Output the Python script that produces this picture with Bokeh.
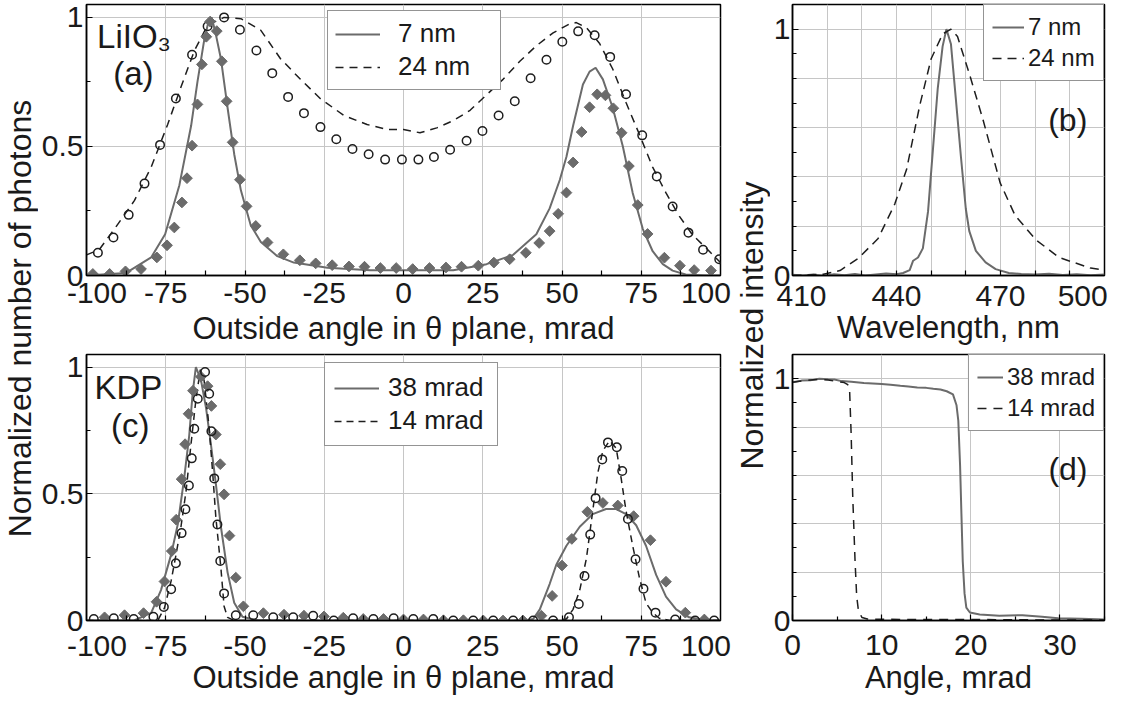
import math
from bokeh.plotting import figure
from bokeh.models import (Range1d, FixedTicker, Grid, Legend, LegendItem, Label,
                          CustomJSTickFormatter)
from bokeh.layouts import row, column
from bokeh.embed import file_html
from bokeh.resources import INLINE
from bokeh.core.properties import value

# ---------------------------------------------------------------- data
# (a) LiIO3 : outside angle (mrad) vs normalized number of photons
a_fit7_x = [-100, -87.5, -79.6, -75.2, -70.7, -67, -65, -62.9, -61.5, -60.5, -59.3, -57.6,
            -55.5, -53.4, -51.3, -48.2, -45, -39.8, -34.6, -24, -10.5, 0, 15.7, 26.2, 34.6,
            41.9, 46.1, 49.3, 51.4, 53.5, 56.6, 58.7, 60.6, 62.9, 66, 69.2, 72.3, 75.5,
            78.6, 81.8, 84.9, 89, 95, 100]
a_fit7_y = [0.0, 0.01, 0.07, 0.16, 0.35, 0.58, 0.75, 0.91, 0.985, 1.0, 0.94, 0.84,
            0.65, 0.47, 0.33, 0.195, 0.13, 0.075, 0.05, 0.03, 0.02, 0.02, 0.02, 0.044, 0.08,
            0.16, 0.26, 0.37, 0.46, 0.58, 0.74, 0.79, 0.805, 0.76, 0.65, 0.50, 0.32, 0.18,
            0.094, 0.044, 0.019, 0.004, 0.0, 0.0]
a_fit24_x = [-100, -96, -91.2, -84.9, -79.6, -74.4, -70.2, -66, -61.8, -56.6, -51.3, -45,
             -38.8, -32.5, -26.2, -18.8, -11.5, -5.2, 0, 5.2, 10.5, 15.7, 21, 26.2, 31.4,
             36.7, 41.9, 47.2, 52.4, 54.5, 57.7, 61.8, 66, 70.2, 74.4, 78.6, 82.8, 87,
             91.2, 95.4, 100]
a_fit24_y = [0.08, 0.10, 0.18, 0.29, 0.42, 0.585, 0.73, 0.87, 0.97, 1.0, 0.995, 0.95,
             0.84, 0.76, 0.685, 0.62, 0.585, 0.566, 0.566, 0.553, 0.572, 0.60, 0.64, 0.70,
             0.76, 0.83, 0.89, 0.94, 0.975, 0.98, 0.96, 0.90, 0.80, 0.67, 0.547, 0.42,
             0.32, 0.23, 0.157, 0.107, 0.05]
a_dat24_x = [-96.4, -91.5, -86.7, -81.7, -76.8, -71.8, -66.7, -61.8, -56.6, -51.6, -46.4,
             -41.4, -36.4, -31.4, -26.2, -21.2, -16.1, -11, -5.8, -0.5, 4.7, 9.6, 14.7,
             19.9, 24.9, 30, 35.1, 40.1, 45.1, 50.1, 55.1, 60.3, 65.2, 70.2, 75.3, 79.9,
             84.9, 89.9, 94.5, 99.6]
a_dat24_y = [0.088, 0.147, 0.235, 0.356, 0.506, 0.686, 0.855, 0.966, 1.0, 0.952, 0.872,
             0.784, 0.692, 0.629, 0.575, 0.528, 0.49, 0.47, 0.449, 0.449, 0.449, 0.459,
             0.487, 0.522, 0.56, 0.62, 0.675, 0.764, 0.836, 0.906, 0.946, 0.931, 0.847,
             0.702, 0.543, 0.384, 0.267, 0.166, 0.10, 0.063]
a_dat7_x = [-98, -92.7, -87.7, -82.8, -77.8, -74.6, -72.3, -69.9, -68.3, -66.7, -65, -63.6,
            -62.2, -61, -58.9, -57.3, -55.8, -53.9, -51.6, -49.5, -46.6, -42.9, -37.9, -32.7,
            -27.7, -22.5, -17.2, -12.3, -7.3, -2.3, 2.9, 8.2, 13.4, 18.3, 23.6, 28.5, 33.5,
            38.6, 42.8, 46.1, 48.8, 51.4, 53.5, 56.2, 58.7, 61.1, 63.7, 66.2, 68.8, 71.1,
            73.9, 77, 82.3, 87.2, 91.7, 97]
a_dat7_y = [0.006, 0.006, 0.016, 0.025, 0.07, 0.117, 0.186, 0.283, 0.377, 0.503, 0.663,
            0.818, 0.925, 0.984, 0.947, 0.83, 0.675, 0.516, 0.371, 0.268, 0.192, 0.128,
            0.082, 0.059, 0.047, 0.04, 0.035, 0.034, 0.029, 0.029, 0.025, 0.029, 0.031,
            0.034, 0.038, 0.05, 0.063, 0.088, 0.126, 0.172, 0.239, 0.321, 0.438, 0.556,
            0.652, 0.702, 0.698, 0.648, 0.553, 0.424, 0.273, 0.161, 0.069, 0.038, 0.021,
            0.019]

# (b) wavelength (nm) vs normalized intensity
b_7_x = [410, 413, 416, 419, 422, 425, 428, 431, 434, 437, 440, 441.9, 443.8, 444.8, 446.2,
         447.6, 449.1, 450.5, 451.9, 453.3, 454.4, 455.7, 457.1, 458.6, 460, 461, 462.9,
         465.7, 468.6, 472.4, 476, 480, 484, 488, 492, 496, 500]
b_7_y = [0.003, 0.0, 0.004, -0.002, 0.005, 0.001, 0.006, 0.0, 0.004, 0.008, 0.005, 0.01,
         0.022, 0.06, 0.073, 0.11, 0.26, 0.51, 0.76, 0.93, 1.0, 0.94, 0.72, 0.48, 0.27,
         0.18, 0.10, 0.053, 0.026, 0.01, 0.006, 0.004, 0.007, 0.002, 0.005, 0.001, 0.004]
b_24_x = [410, 414, 418.9, 423.7, 429, 434.7, 439.5, 442.9, 446.7, 450, 453.3, 455.7,
          457.6, 461.2, 465, 469.9, 474.2, 480.2, 486.9, 496, 500]
b_24_y = [0.0, 0.002, 0.005, 0.02, 0.07, 0.15, 0.29, 0.43, 0.69, 0.88, 0.98, 1.0,
          0.97, 0.81, 0.63, 0.376, 0.244, 0.145, 0.073, 0.03, 0.022]

# (c) KDP : outside angle (mrad) vs normalized number of photons
c_fit38_x = [-100, -85, -79.6, -76.5, -73.3, -71.2, -69.2, -67.6, -66.5, -65.5, -63.9,
             -62.3, -60.8, -59.2, -57.6, -55.5, -53.4, -50.8, -47, -40, 0, 38, 40.9, 43,
             46.1, 48.2, 51.4, 55.6, 59.7, 63.9, 67.1, 70.2, 73.4, 76.5, 79.7, 82.8, 86,
             90.1, 95, 100]
c_fit38_y = [0, 0, 0.03, 0.12, 0.26, 0.38, 0.56, 0.73, 0.90, 1.0, 0.95, 0.84, 0.70, 0.54,
             0.37, 0.19, 0.07, 0.015, 0.003, 0, 0, 0, 0.006, 0.044, 0.144, 0.22, 0.295,
             0.37, 0.42, 0.44, 0.44, 0.42, 0.376, 0.295, 0.18, 0.094, 0.044, 0.0125,
             0.002, 0]
c_fit14_x = [-100, -80, -77.5, -75.4, -73.3, -71.8, -70.2, -68.6, -67, -65.5, -64.1, -62.9,
             -61.3, -60.2, -59.2, -57.6, -56.6, -55.5, -53.4, -40, 0, 45, 51.4, 53.5, 55.6,
             57.7, 59.7, 61.3, 62.9, 65, 67.1, 68.7, 70.2, 72.3, 74.4, 76.5, 78.6, 80.7,
             83.9, 100]
c_fit14_y = [0, 0, 0.0, 0.05, 0.157, 0.257, 0.37, 0.51, 0.70, 0.87, 0.99, 0.947, 0.76,
             0.583, 0.408, 0.207, 0.056, 0.0125, 0, 0, 0, 0, 0.006, 0.044, 0.12, 0.245,
             0.433, 0.583, 0.67, 0.71, 0.68, 0.558, 0.433, 0.295, 0.17, 0.069, 0.031,
             0.009, 0, 0]
c_dat38_x = [-94.3, -88.0, -82.0, -77.9, -75.4, -73.1, -71.7, -70.0, -68.9, -67.8, -66.4,
             -63.9, -61.8, -60.6, -59.2, -57.8, -56.6, -54.9, -52.9, -50.5, -44.2, -37.7,
             -31.4, -25.1, -19.0, -12.7, -6.3, 0.0, 6.3, 12.6, 18.9, 25.2, 31.4, 37.7, 43.5,
             46.9, 50.0, 53.1, 58.0, 62.9, 67.6, 72.6, 77.9, 82.8, 88.9, 94.9]
c_dat38_y = [0.0125, 0.021, 0.029, 0.074, 0.154, 0.274, 0.398, 0.558, 0.696, 0.816, 0.907,
             0.962, 0.925, 0.847, 0.734, 0.617, 0.498, 0.335, 0.169, 0.056, 0.029, 0.023,
             0.019, 0.016, 0.011, 0.006, 0.006, 0.004, 0.004, 0.001, 0.001, 0.0, 0.0, 0.0,
             0.019, 0.097, 0.217, 0.322, 0.429, 0.464, 0.454, 0.412, 0.317, 0.153, 0.031,
             0.004]
c_dat14_x = [-97.7, -91.4, -85.1, -78.9, -75.6, -73.3, -71.8, -70.0, -68.8, -67.7, -66.8,
             -66.0, -64.9, -62.6, -61.3, -60.6, -59.7, -58.7, -57.8, -56.6, -52.9, -47.4,
             -41.1, -34.8, -28.5, -22.0, -15.9, -9.5, -3.1, 3.1, 9.4, 15.7, 22.0, 28.3,
             34.6, 40.9, 47.2, 52.2, 55.3, 57.1, 58.9, 60.6, 62.7, 64.5, 67.3, 69.0, 70.8,
             73.2, 75.7, 79.5, 85.7, 92.0, 98.0]
c_dat14_y = [0.006, 0.009, 0.006, 0.015, 0.053, 0.123, 0.226, 0.345, 0.439, 0.533, 0.64,
             0.757, 0.875, 0.981, 0.895, 0.747, 0.561, 0.379, 0.235, 0.107, 0.021, 0.021,
             0.0125, 0.0125, 0.019, 0.0, 0.009, 0.006, 0.009, 0.006, 0.006, 0.0, 0.0, 0.0,
             0.0, 0.0, 0.0, 0.0125, 0.065, 0.176, 0.339, 0.483, 0.636, 0.703, 0.684, 0.59,
             0.401, 0.242, 0.125, 0.031, 0.004, 0.0, 0.0]

# (d) angle (mrad) vs normalized intensity
d_38_x = [0, 1, 2, 3, 4, 4.7, 5.5, 6.6, 8, 9, 10, 11, 12.1, 13, 14, 15, 15.8, 16.6, 17.3,
          18, 18.4, 18.6, 18.8, 18.95, 19.1, 19.3, 19.5, 19.9, 21, 23.2, 25.8, 28, 29.8,
          32.4, 35]
d_38_y = [0.985, 0.992, 0.993, 1.0, 0.998, 0.997, 0.99, 0.987, 0.982, 0.98, 0.978, 0.975,
          0.971, 0.968, 0.964, 0.962, 0.958, 0.955, 0.948, 0.935, 0.89, 0.826, 0.64, 0.44,
          0.244, 0.112, 0.053, 0.033, 0.025, 0.02, 0.022, 0.016, 0.009, 0.007, 0.004]
d_14_x = [0, 1, 2, 2.9, 4, 4.7, 5.8, 6.2, 6.4, 6.58, 6.76, 7.02, 7.2, 7.4, 7.8, 8.4, 10,
          15, 20, 25, 30, 35]
d_14_y = [0.985, 0.99, 0.995, 0.997, 0.995, 0.99, 0.984, 0.975, 0.958, 0.77, 0.51, 0.244,
          0.1, 0.04, 0.012, 0.006, 0.005, 0.004, 0.004, 0.003, 0.002, 0.002]

# ticks, grid lines and tick labels
ang_ticks = [-87.5, -75, -62.5, -50, -37.5, -25, -12.5, 0, 12.5, 25, 37.5, 50, 62.5, 75, 87.5]
ang_labels = [-75, -50, -25, 0, 25, 50, 75]
ang_end_labels = ["-100", "100"]
ang_end_pos = [-96.7, 95.4]          # edge labels are set inwards, as in the original
ang_grid = [-75, -50, -25, 0, 25, 50, 75]
ph_major = [0, 0.5, 1]
ph_minor = [0.25, 0.75]
ph_grid = [0.5, 1]
wl_ticks = [420, 430, 440, 450, 460, 470, 480, 490]
wl_labels = [440, 470]
wl_end_labels = ["410", "500"]
wl_end_pos = [412.6, 493.7]
wl_grid = [420, 430, 440, 450, 460, 470, 480, 490]
in_major = [0, 1]
in_minor = [0.1, 0.2, 0.3, 0.4, 0.5, 0.6, 0.7, 0.8, 0.9]
in_grid = [0.2, 0.4, 0.6, 0.8, 1.0]
an_major = [0, 10, 20, 30]
an_minor = [5, 15, 25, 35]
an_grid = [10, 20, 30]

# ---------------------------------------------------------------- style
FONT = "Liberation Sans"
TXT = "#1a1a1a"
GRAY = "#6b6b6b"
DARK = "#1e1e1e"
GRIDC = "#c6c6c6"
TICK_FS = "30px"
LAB_FS = "31px"


def base_fig(w, h, xr, yr, mbl, mbr, mbt, mbb):
    p = figure(width=w, height=h, x_range=Range1d(*xr), y_range=Range1d(*yr),
               output_backend="svg", toolbar_location=None, tools="",
               min_border_left=mbl, min_border_right=mbr,
               min_border_top=mbt, min_border_bottom=mbb)
    p.grid.visible = False
    p.outline_line_color = "black"
    p.outline_line_width = 1.5
    p.background_fill_color = "white"
    p.border_fill_color = "white"
    return p


def common_axis(ax, standoff):
    ax.major_label_text_font = FONT
    ax.major_label_text_font_size = TICK_FS
    ax.major_label_text_color = TXT
    ax.major_label_standoff = standoff
    ax.axis_line_color = "black"
    ax.axis_line_width = 1.5
    ax.major_tick_in = 6
    ax.major_tick_out = 0
    ax.minor_tick_in = 4
    ax.minor_tick_out = 0
    ax.major_tick_line_color = "black"
    ax.minor_tick_line_color = "black"
    ax.major_tick_line_width = 1.2
    ax.minor_tick_line_width = 1.2


def axis_title(ax, label, label_standoff):
    ax.axis_label = label
    ax.axis_label_text_font = FONT
    ax.axis_label_text_font_size = LAB_FS
    ax.axis_label_text_font_style = "normal"
    ax.axis_label_text_color = TXT
    ax.axis_label_standoff = label_standoff


def plain_axis(ax, major, minor, standoff):
    common_axis(ax, standoff)
    ax.ticker = FixedTicker(ticks=major, minor_ticks=minor)
    ax.formatter = CustomJSTickFormatter(code="return String(tick);")


def edge_axis(ax, labelled, end_pos, end_labels, tick_marks, standoff):
    # labels sit at the labelled ticks plus two edge positions pulled inwards;
    # all tick marks are drawn as (inward) minor ticks at their true places
    common_axis(ax, standoff)
    ax.ticker = FixedTicker(ticks=[end_pos[0]] + labelled + [end_pos[1]],
                            minor_ticks=tick_marks)
    ax.formatter = CustomJSTickFormatter(
        args=dict(lo=end_pos[0], hi=end_pos[1], lo_lab=end_labels[0], hi_lab=end_labels[1]),
        code="if (tick == lo) return lo_lab; if (tick == hi) return hi_lab; return String(tick);")
    ax.major_tick_line_color = None
    ax.minor_tick_in = 5


def add_grid(p, dim, ticks):
    p.add_layout(Grid(dimension=dim, ticker=FixedTicker(ticks=ticks),
                      grid_line_color=GRIDC, grid_line_width=1))


def panel_label(p, x, y, text, size):
    p.add_layout(Label(x=x, y=y, text=text, text_align="center",
                       text_baseline="alphabetic", text_font=FONT,
                       text_font_size=size, text_color=TXT))


def add_legend(p, items, loc, fsize, glyph_w, pad, spacing, standoff, label_w):
    lg = Legend(items=[LegendItem(label=l, renderers=[r]) for l, r in items],
                location=loc)
    lg.label_text_font = FONT
    lg.label_text_font_size = fsize
    lg.label_text_color = TXT
    lg.border_line_color = "#2a2a2a"
    lg.border_line_width = 1.2
    lg.background_fill_color = "white"
    lg.background_fill_alpha = 1.0
    lg.glyph_width = glyph_w
    lg.glyph_height = 20
    lg.padding = pad
    lg.spacing = spacing
    lg.label_standoff = standoff
    lg.label_width = label_w
    lg.margin = 0
    p.add_layout(lg)


def diamonds(p, x, y):
    p.scatter(x, y, marker="square", angle=math.pi / 4, size=7.6,
              fill_color=GRAY, line_color=GRAY)


def circles(p, x, y):
    p.scatter(x, y, marker="circle", size=8.5, fill_color=None,
              line_color=DARK, line_width=1.5)


# ---------------------------------------------------------------- (a)
fa = base_fig(694, 349, (-100, 100), (0, 1.05), 46, 12, 4, 74)
add_grid(fa, 0, ang_grid)
add_grid(fa, 1, ph_grid)
edge_axis(fa.xaxis[0], ang_labels, ang_end_pos, ang_end_labels, ang_ticks, 7)
axis_title(fa.xaxis[0], "Outside angle in \u03b8 plane, mrad", 5)
plain_axis(fa.yaxis[0], ph_major, ph_minor, 3)
ra1 = fa.line(a_fit7_x, a_fit7_y, line_color=GRAY, line_width=2)
ra2 = fa.line(a_fit24_x, a_fit24_y, line_color=DARK, line_width=1.5, line_dash="8 6")
circles(fa, a_dat24_x, a_dat24_y)
diamonds(fa, a_dat7_x, a_dat7_y)
panel_label(fa, -85, 0.925, "LiIO\u2083", "33px")
panel_label(fa, -85.2, 0.781, "(a)", "33px")
add_legend(fa, [("7 nm", ra1), ("24 nm", ra2)], (241, 185), "26px", 45, 7, 2, 18, 95)

# ---------------------------------------------------------------- (c)
fc = base_fig(694, 348, (-100, 100), (0, 1.05), 46, 12, 5, 77)
add_grid(fc, 0, ang_grid)
add_grid(fc, 1, ph_grid)
edge_axis(fc.xaxis[0], ang_labels, ang_end_pos, ang_end_labels, ang_ticks, 15)
axis_title(fc.xaxis[0], "Outside angle in \u03b8 plane, mrad", 1)
plain_axis(fc.yaxis[0], ph_major, ph_minor, 3)
rc1 = fc.line(c_fit38_x, c_fit38_y, line_color=GRAY, line_width=2)
rc2 = fc.line(c_fit14_x, c_fit14_y, line_color=DARK, line_width=1.5, line_dash="7 5")
diamonds(fc, c_dat38_x, c_dat38_y)
circles(fc, c_dat14_x, c_dat14_y)
panel_label(fc, -86.8, 0.921, "KDP", "33px")
panel_label(fc, -86.2, 0.77, "(c)", "33px")
add_legend(fc, [("38 mrad", rc1), ("14 mrad", rc2)], (238, 174), "26px", 45, 9, 2, 9, 100)

# ---------------------------------------------------------------- (b)
fb = base_fig(338, 349, (410, 500), (0, 1.1), 19, 4, 4, 74)
add_grid(fb, 0, wl_grid)
add_grid(fb, 1, in_grid)
edge_axis(fb.xaxis[0], wl_labels, wl_end_pos, wl_end_labels, wl_ticks, 10)
axis_title(fb.xaxis[0], "Wavelength, nm", 1)
plain_axis(fb.yaxis[0], in_major, in_minor, 2)
rb1 = fb.line(b_7_x, b_7_y, line_color=GRAY, line_width=2)
rb2 = fb.line(b_24_x, b_24_y, line_color=DARK, line_width=1.5, line_dash="9 6")
panel_label(fb, 489.4, 0.632, "(b)", "32px")
add_legend(fb, [("7 nm", rb1), ("24 nm", rb2)], "top_right", "24px", 32, 8, 3, 4, 67)

# ---------------------------------------------------------------- (d)
fd = base_fig(338, 348, (0, 35), (0, 1.1), 19, 4, 5, 77)
add_grid(fd, 0, an_grid)
add_grid(fd, 1, in_grid)
plain_axis(fd.xaxis[0], an_major, an_minor, 14)
axis_title(fd.xaxis[0], "Angle, mrad", 2)
plain_axis(fd.yaxis[0], in_major, in_minor, 2)
rd1 = fd.line(d_38_x, d_38_y, line_color=GRAY, line_width=2)
rd2 = fd.line(d_14_x, d_14_y, line_color=DARK, line_width=1.5, line_dash="9 7")
panel_label(fd, 30.9, 0.627, "(d)", "32px")
add_legend(fd, [("38 mrad", rd1), ("14 mrad", rd2)], "top_right", "24px", 26, 8, 3, 4, 88)


# ---------------------------------------------------------------- shared y labels
def ylabel_fig(w, h, xc, yc, text, size):
    p = figure(width=w, height=h, x_range=Range1d(0, w), y_range=Range1d(0, h),
               output_backend="svg", toolbar_location=None, tools="",
               x_axis_type=None, y_axis_type=None, min_border=0)
    p.outline_line_color = None
    p.background_fill_color = None
    p.border_fill_color = None
    p.text(x=[xc], y=[yc], text=[text], angle=math.pi / 2, text_align="center",
           text_baseline="middle", text_font=value(FONT), text_font_size=value(size),
           text_color=TXT)
    return p


H = 697
labL = ylabel_fig(38, H, 19, 705 - 326, "Normalized number of photons", "32px")
labR = ylabel_fig(38, H, 19, 705 - 333, "Normalized intensity", "32px")

layout = row(labL, column(fa, fc), labR, column(fb, fd))

open("out.html", "w").write(file_html(layout, INLINE))
